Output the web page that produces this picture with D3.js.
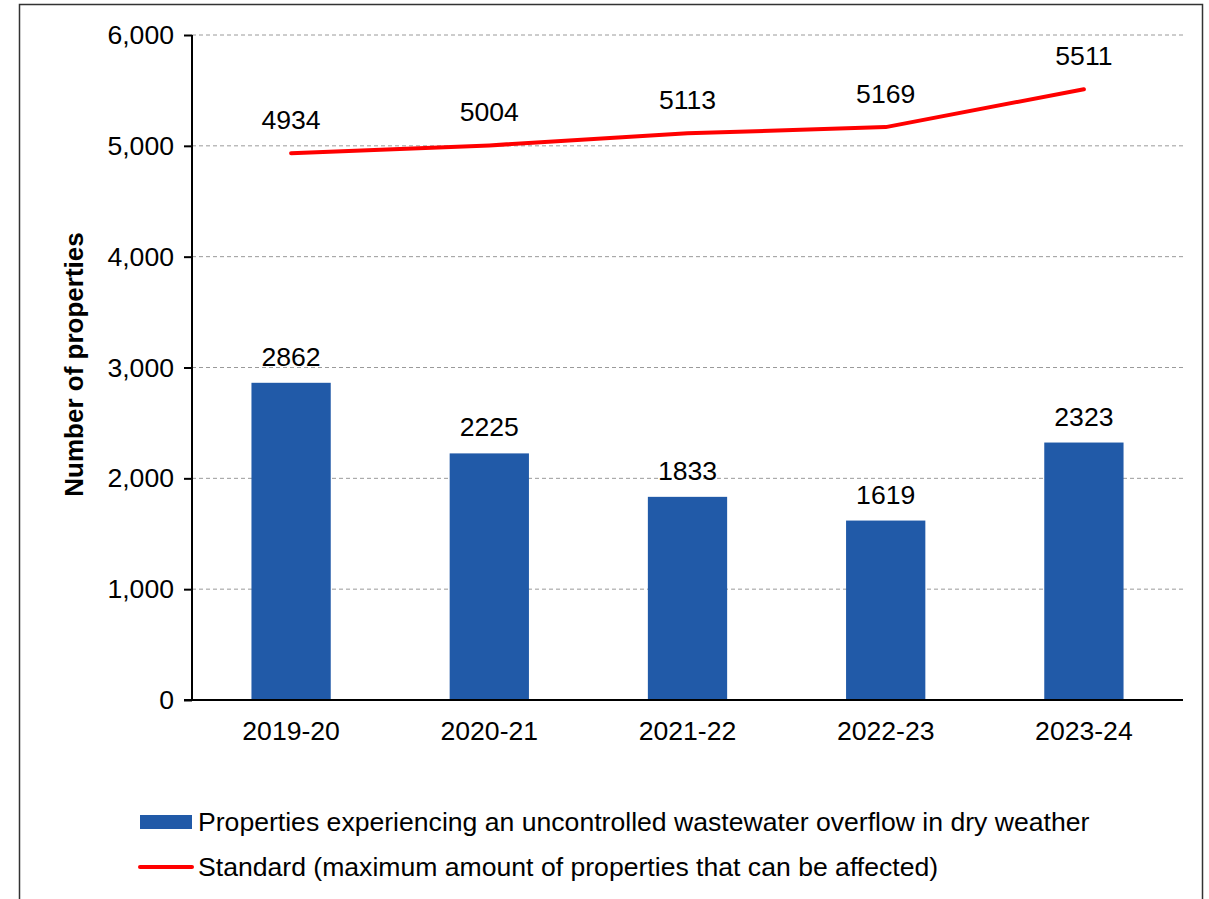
<!DOCTYPE html>
<html>
<head>
<meta charset="utf-8">
<script src="https://cdn.jsdelivr.net/npm/d3@7"></script>
<style>
  html, body { margin: 0; padding: 0; background: #fff; }
  svg { display: block; font-family: "Liberation Sans", Arial, sans-serif; }
</style>
</head>
<body>
<svg id="chart" width="1209" height="899"></svg>
<script>
// Financial years shown on the x axis
const years = ["2019-20", "2020-21", "2021-22", "2022-23", "2023-24"];
// Properties experiencing an uncontrolled wastewater overflow in dry weather
const affected = [2862, 2225, 1833, 1619, 2323];
// Standard: maximum number of properties that can be affected
const standard = [4934, 5004, 5113, 5169, 5511];
// Value axis ticks
const yTicks = [0, 1000, 2000, 3000, 4000, 5000, 6000];

const legendLabels = [
  "Properties experiencing an uncontrolled wastewater overflow in dry weather",
  "Standard (maximum amount of properties that can be affected)"
];

const barColor = "#215AA8";
const lineColor = "#FF0000";
const fontSize = 26.6;

const svg = d3.select("#chart");
const plot = { left: 192, right: 1183, top: 35, bottom: 700 };

// Outer frame
svg.append("rect")
  .attr("x", 19.5).attr("y", 4.5)
  .attr("width", 1183).attr("height", 910)
  .attr("fill", "none").attr("stroke", "#333").attr("stroke-width", 1.5);

const x = d3.scaleBand().domain(years).range([plot.left, plot.right]).paddingInner(0.6).paddingOuter(0.3);
const y = d3.scaleLinear().domain([0, 6000]).range([plot.bottom, plot.top]);

// Dashed gridlines
svg.append("g")
  .selectAll("line")
  .data(yTicks.filter(d => d > 0))
  .join("line")
  .attr("x1", plot.left).attr("x2", plot.right)
  .attr("y1", d => y(d)).attr("y2", d => y(d))
  .attr("stroke", "#9a9a9a").attr("stroke-width", 1)
  .attr("stroke-dasharray", "4,3");

// Bars
svg.append("g")
  .selectAll("rect")
  .data(affected)
  .join("rect")
  .attr("x", (d, i) => x(years[i]))
  .attr("y", d => y(d))
  .attr("width", x.bandwidth())
  .attr("height", d => y(0) - y(d))
  .attr("fill", barColor);

// Bar value labels
svg.append("g")
  .selectAll("text")
  .data(affected)
  .join("text")
  .attr("x", (d, i) => x(years[i]) + x.bandwidth() / 2)
  .attr("y", d => y(d) - 17)
  .attr("text-anchor", "middle")
  .attr("font-size", fontSize)
  .attr("fill", "#000")
  .text(d => d);

// Y axis
const yAxis = d3.axisLeft(y)
  .tickValues(yTicks)
  .tickSize(8)
  .tickPadding(10)
  .tickFormat(d3.format(","));
const gy = svg.append("g")
  .attr("transform", `translate(${plot.left},0)`)
  .call(yAxis);
gy.select(".domain").attr("stroke", "#000").attr("stroke-width", 2)
  .attr("d", `M0,${plot.top}V${plot.bottom}`);
gy.selectAll(".tick line").attr("stroke", "#000").attr("stroke-width", 2);
gy.selectAll(".tick text").attr("font-size", fontSize).attr("fill", "#000")
  .attr("font-family", "Liberation Sans, Arial, sans-serif");

// X axis
const xAxis = d3.axisBottom(x).tickSize(0).tickPadding(21);
const gx = svg.append("g")
  .attr("transform", `translate(0,${plot.bottom})`)
  .call(xAxis);
gx.select(".domain").attr("stroke", "#000").attr("stroke-width", 2)
  .attr("d", `M${plot.left - 8},0H${plot.right}`);
gx.selectAll(".tick text").attr("font-size", fontSize).attr("fill", "#000")
  .attr("font-family", "Liberation Sans, Arial, sans-serif");

// Standard line
const line = d3.line()
  .x((d, i) => x(years[i]) + x.bandwidth() / 2)
  .y(d => y(d));
svg.append("path")
  .datum(standard)
  .attr("d", line)
  .attr("fill", "none")
  .attr("stroke", lineColor)
  .attr("stroke-width", 4)
  .attr("stroke-linejoin", "round")
  .attr("stroke-linecap", "round");

// Standard value labels
svg.append("g")
  .selectAll("text")
  .data(standard)
  .join("text")
  .attr("x", (d, i) => x(years[i]) + x.bandwidth() / 2)
  .attr("y", d => y(d) - 24)
  .attr("text-anchor", "middle")
  .attr("font-size", fontSize)
  .attr("fill", "#000")
  .text(d => d);

// Y axis title
svg.append("text")
  .attr("transform", `translate(83,${(plot.top + plot.bottom) / 2 - 3}) rotate(-90)`)
  .attr("text-anchor", "middle")
  .attr("font-size", 26)
  .attr("font-weight", "bold")
  .attr("fill", "#000")
  .text("Number of properties");

// Legend
const legend = svg.append("g");
legend.append("rect")
  .attr("x", 140).attr("y", 815).attr("width", 52).attr("height", 14)
  .attr("fill", barColor);
legend.append("line")
  .attr("x1", 140).attr("x2", 192).attr("y1", 867).attr("y2", 867)
  .attr("stroke", lineColor).attr("stroke-width", 4).attr("stroke-linecap", "round");
legend.selectAll("text")
  .data(legendLabels)
  .join("text")
  .attr("x", 198)
  .attr("y", (d, i) => 831 + i * 45)
  .attr("font-size", fontSize)
  .attr("fill", "#000")
  .text(d => d);
</script>
</body>
</html>
